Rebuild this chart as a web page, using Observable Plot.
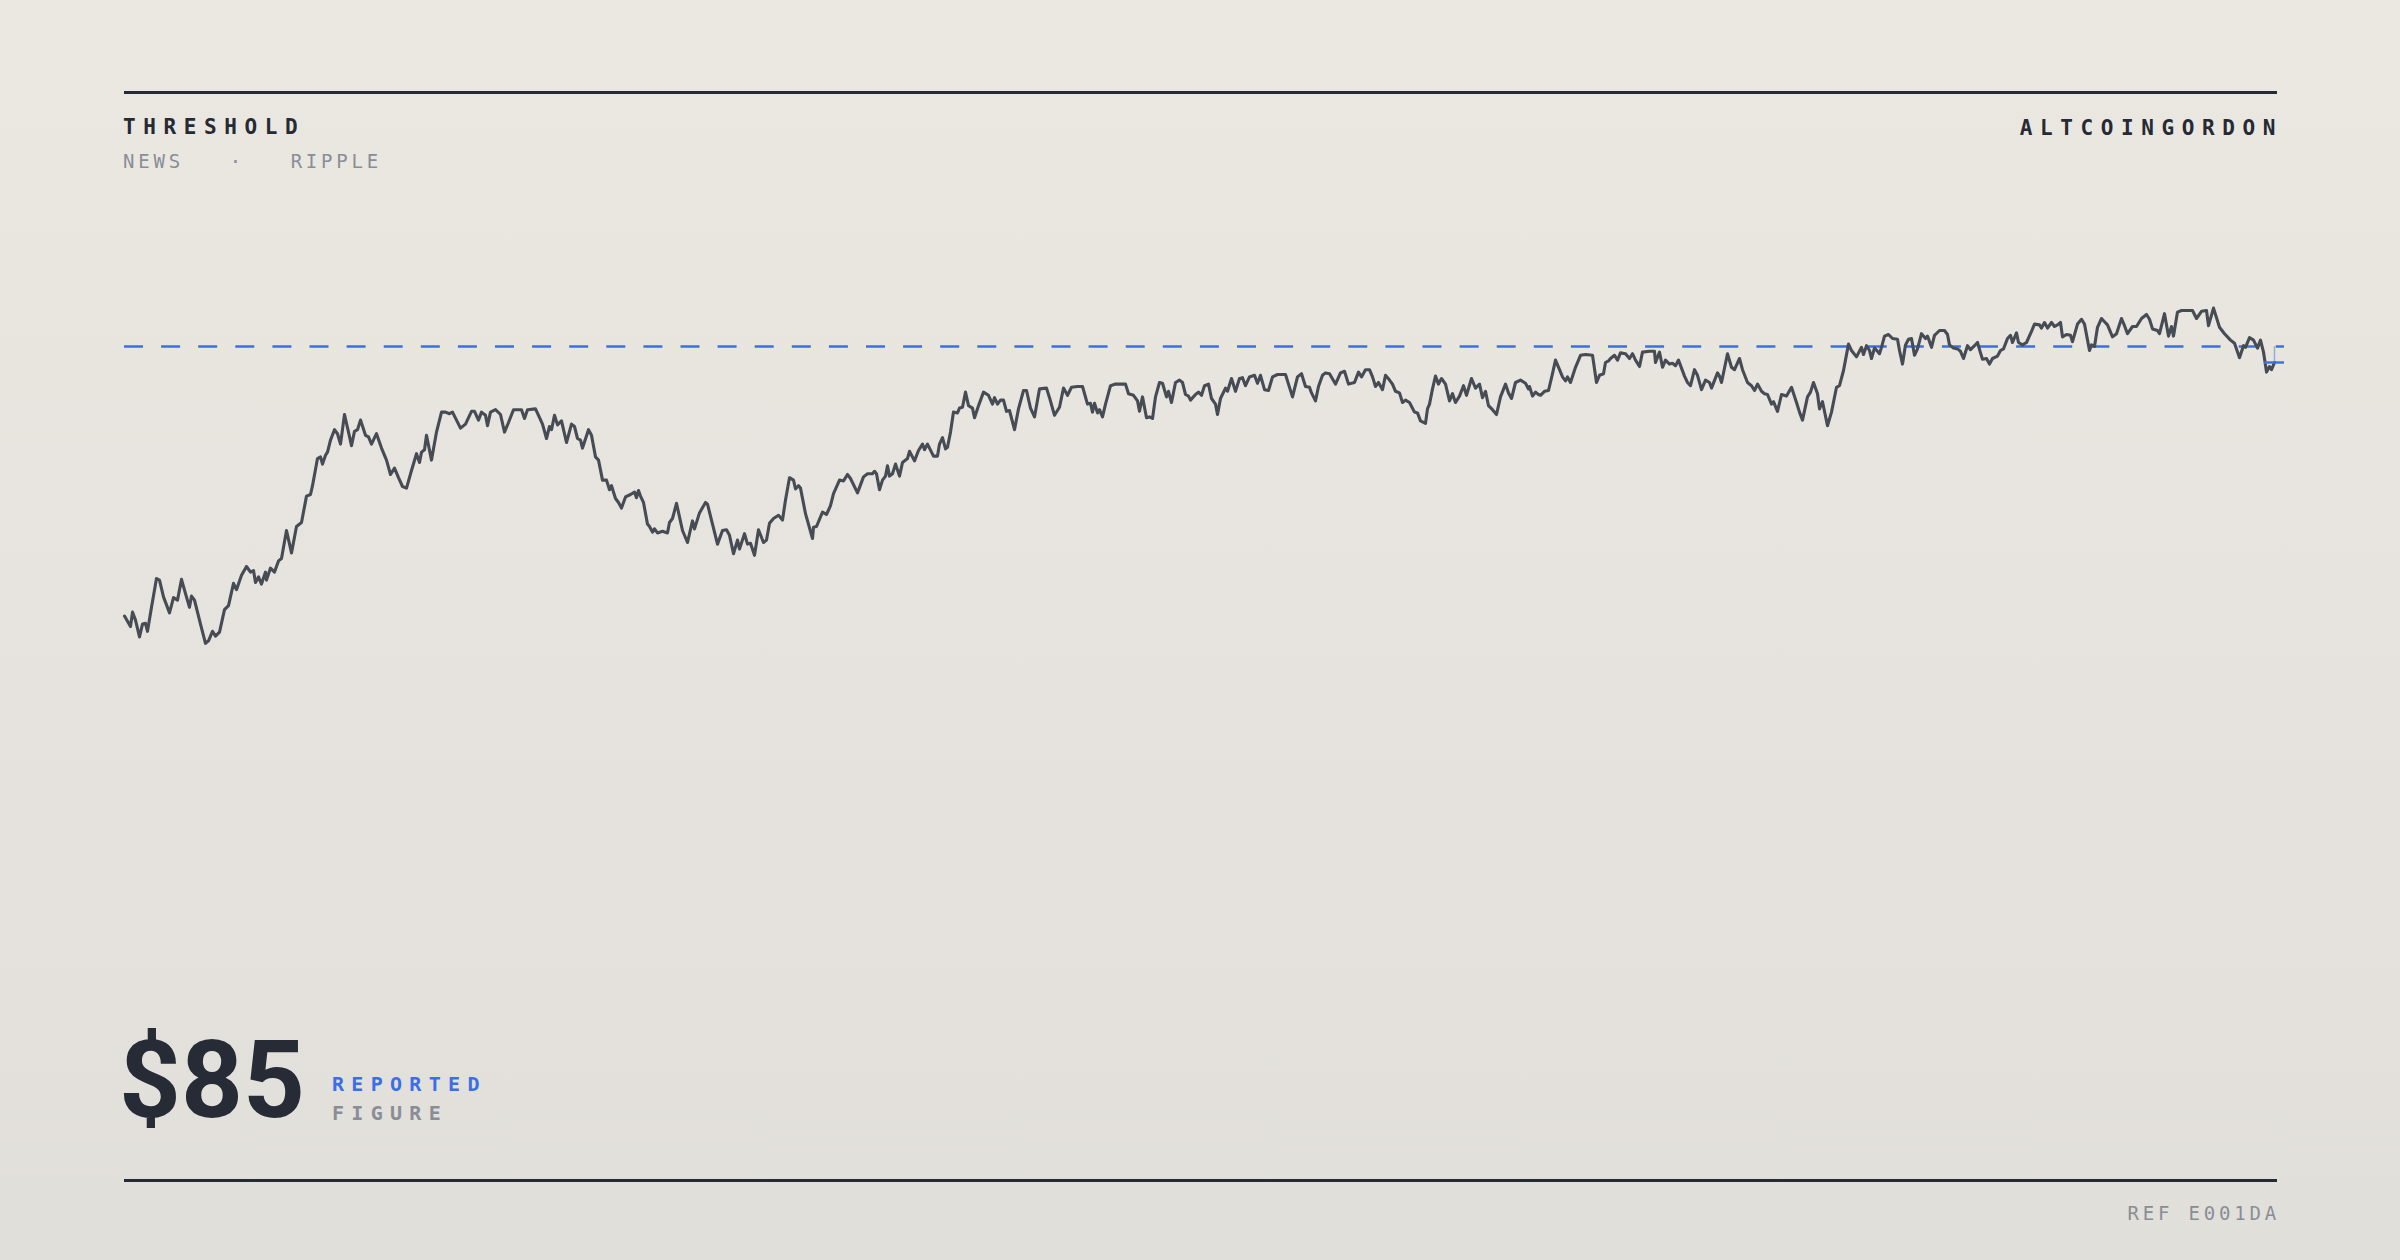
<!DOCTYPE html>
<html><head><meta charset="utf-8">
<script src="https://cdn.jsdelivr.net/npm/d3@7"></script>
<script src="https://cdn.jsdelivr.net/npm/@observablehq/plot@0.6"></script>
<style>
html,body{margin:0;padding:0;}
body{width:2400px;height:1260px;overflow:hidden;background:linear-gradient(180deg,#ebe8e2 0%,#e1dfda 100%);}
#page{position:relative;width:2400px;height:1260px;}
.rule{position:absolute;left:124px;width:2153px;height:3px;background:#262a33;}
.mono{position:absolute;font-family:"DejaVu Sans Mono",monospace;white-space:pre;line-height:1;margin:0;}
.kicker{font-size:21px;font-weight:700;letter-spacing:7.6px;color:#262a33;}
.meta{font-size:19px;font-weight:400;letter-spacing:3.8px;color:#8a8d96;}
.tag{font-size:20px;font-weight:700;letter-spacing:7.3px;}
#big{position:absolute;left:119px;top:1026px;font-family:Roboto,Inter,sans-serif;font-weight:700;font-size:108px;line-height:1;letter-spacing:0px;color:#272b35;white-space:pre;}
#chart{position:absolute;left:0;top:200px;}
</style></head>
<body><div id="page">
<div class="rule" style="top:91px"></div>
<div class="rule" style="top:1179px"></div>
<div id="title" class="mono kicker" style="left:123px;top:117px"></div>
<div id="brand" class="mono kicker" style="right:117px;top:118px"></div>
<div id="sub" class="mono meta" style="left:123px;top:152px"></div>
<div id="big"></div>
<div id="tag1" class="mono tag" style="left:332px;top:1074px;color:#3b6fe6"></div>
<div id="tag2" class="mono tag" style="left:332px;top:1103px;color:#8a8d96"></div>
<div id="ref" class="mono meta" style="right:120px;top:1204px"></div>
<div id="chart"></div>
</div>
<script>
const titleText = "THRESHOLD";
const brandText = "ALTCOINGORDON";
const subtitleParts = ["NEWS", "RIPPLE"];
const reportedLabel = ["REPORTED", "FIGURE"];
const refText = "REF E001DA";
const reportedFigure = 85;

const days = [0,6,8,11,15,18,21,23,27,32,35,39,45,49,53,57,61,65,67,70,76,81,84,88,91,95,100,104,109,112,117,122,126,129,131,134,137,141,142,146,150,154,157,162,167,172,177,182,186,188,193,196,198,201,203,206,210,213,216,220,224,227,230,233,236,241,244,247,252,257,262,266,270,274,278,282,287,292,295,297,300,302,307,312,317,321,325,328,332,336,341,347,350,354,357,361,363,366,371,376,380,384,389,397,400,403,411,414,418,422,425,427,430,433,437,442,447,450,453,456,458,464,467,471,474,478,482,485,487,491,494,497,501,506,510,512,514,516,519,523,525,528,530,533,538,543,545,548,552,558,563,568,570,575,581,583,588,593,598,602,605,609,613,615,620,623,626,630,634,639,642,645,649,654,658,661,665,669,671,674,676,681,688,689,692,698,702,706,709,715,719,723,726,733,739,743,748,750,752,755,758,761,763,765,768,771,775,778,783,785,790,794,798,800,803,805,809,813,815,818,821,823,826,829,833,835,838,841,844,848,850,854,859,864,868,870,873,876,879,882,885,890,894,899,902,906,910,915,922,925,930,935,939,943,947,953,958,963,966,968,970,973,975,978,981,986,991,1001,1004,1009,1013,1015,1018,1022,1025,1028,1031,1035,1038,1042,1044,1047,1051,1055,1058,1061,1064,1066,1071,1074,1077,1080,1084,1087,1091,1093,1096,1101,1103,1107,1111,1115,1118,1121,1125,1130,1133,1136,1140,1144,1148,1153,1161,1164,1168,1173,1177,1181,1185,1187,1191,1194,1198,1201,1205,1211,1216,1220,1224,1230,1234,1237,1241,1245,1248,1251,1254,1258,1261,1265,1268,1271,1275,1278,1281,1285,1290,1293,1296,1301,1303,1305,1308,1311,1314,1317,1321,1325,1328,1331,1335,1339,1342,1347,1351,1355,1358,1361,1364,1368,1372,1376,1381,1384,1387,1391,1396,1401,1404,1405,1408,1411,1414,1416,1420,1424,1428,1431,1435,1438,1441,1443,1446,1451,1456,1461,1468,1472,1475,1479,1481,1484,1486,1490,1493,1496,1501,1505,1508,1511,1515,1518,1525,1530,1531,1535,1538,1541,1545,1548,1551,1554,1560,1563,1566,1570,1573,1577,1581,1585,1587,1593,1595,1597,1603,1607,1610,1615,1618,1623,1627,1630,1633,1637,1640,1643,1647,1649,1653,1657,1662,1667,1672,1675,1678,1683,1686,1689,1693,1695,1698,1703,1707,1712,1715,1719,1724,1727,1732,1737,1739,1742,1745,1747,1750,1753,1755,1757,1760,1764,1768,1773,1775,1778,1781,1784,1787,1790,1793,1797,1801,1803,1807,1810,1815,1820,1823,1825,1829,1833,1836,1839,1843,1846,1850,1853,1856,1858,1862,1865,1868,1873,1876,1879,1883,1886,1888,1892,1894,1898,1902,1907,1910,1915,1917,1920,1923,1927,1930,1933,1936,1938,1942,1946,1948,1953,1957,1960,1965,1967,1970,1973,1977,1980,1983,1988,1992,1997,2000,2003,2008,2012,2017,2022,2025,2028,2033,2035,2040,2044,2047,2049,2053,2057,2068,2072,2077,2082,2084,2089,2095,2100,2106,2110,2115,2119,2121,2125,2129,2133,2136,2139,2142,2145,2147,2150];

const prices = [51.3,50.0,51.8,50.8,48.7,50.3,50.4,49.4,52.4,56.0,55.8,53.7,51.7,53.6,53.3,55.9,54.1,52.4,53.8,53.3,50.3,47.9,48.2,49.4,48.8,49.3,52.1,52.6,55.4,54.6,56.4,57.5,56.8,57.0,55.5,56.2,55.3,56.8,55.8,57.3,56.8,58.2,58.5,62.0,59.2,62.5,63.0,66.3,66.5,67.6,71.0,71.2,70.3,71.4,71.8,73.3,74.6,74.1,72.8,76.5,74.3,72.6,74.4,74.6,75.8,73.9,73.7,72.8,74.1,72.3,70.8,69.0,69.8,68.6,67.5,67.3,69.5,71.6,70.5,71.8,72.1,73.9,70.8,74.3,76.8,76.8,76.6,76.8,75.8,74.8,75.3,76.9,76.9,75.8,76.8,76.4,75.1,76.8,77.1,76.5,74.3,75.5,77.1,77.1,76.0,77.1,77.2,76.4,75.3,73.5,75.0,74.6,76.4,75.2,75.7,73.0,75.3,75.0,73.5,73.3,72.3,74.6,73.9,71.2,70.8,68.3,68.3,67.1,67.6,66.0,65.5,64.8,66.2,66.5,66.8,66.1,67.0,66.3,65.5,62.8,62.5,61.8,62.2,61.7,61.9,61.7,63.0,63.5,65.4,62.0,60.5,63.2,62.2,64.2,65.5,65.3,62.8,60.3,62.0,62.1,61.4,59.1,60.8,59.7,61.6,60.3,60.4,58.9,62.1,60.5,60.8,62.9,63.5,63.9,63.3,65.8,68.6,68.3,67.2,67.6,67.3,64.1,61.0,62.4,62.5,64.3,64.0,65.1,66.6,68.3,68.2,69.0,68.5,66.7,68.7,69.1,69.1,69.4,69.1,67.1,68.3,68.8,70.1,68.8,69.1,70.3,68.8,70.5,71.0,71.9,70.7,72.0,72.8,72.1,72.8,72.3,71.3,71.3,72.8,73.6,72.2,72.4,74.3,76.8,76.7,77.3,77.4,79.3,77.6,77.3,76.1,77.6,79.3,78.9,77.8,78.6,77.8,78.3,78.3,76.9,77.0,74.6,77.2,79.5,79.5,77.3,76.2,79.7,79.8,78.6,76.4,77.4,79.8,78.9,79.9,80.0,80.0,77.8,77.9,76.8,77.9,76.7,77.1,76.2,77.8,80.1,80.3,80.3,79.1,78.9,78.2,76.9,78.7,76.1,76.2,76.0,78.7,80.5,80.4,78.7,79.4,78.0,80.5,80.8,80.5,79.0,78.8,78.3,79.0,79.3,78.9,80.1,80.3,78.5,77.8,76.5,78.5,79.8,79.4,81.0,79.4,81.0,81.1,80.1,81.2,81.4,80.4,81.4,79.6,79.5,81.2,81.5,81.5,80.3,78.7,81.2,81.6,80.0,79.9,79.2,78.2,80.0,81.4,81.7,81.6,80.3,81.7,81.9,80.3,80.5,81.8,81.2,82.1,82.1,81.2,80.0,80.5,79.6,81.4,80.8,80.3,79.4,79.2,78.0,78.3,78.0,76.8,76.7,75.7,75.4,77.2,77.8,79.7,81.3,80.3,81.0,80.3,78.2,79.1,78.0,78.8,80.1,78.9,81.0,79.8,80.3,78.6,79.4,77.6,77.1,76.5,78.7,80.3,79.2,78.5,80.5,80.8,80.4,79.7,80.0,78.8,79.3,79.0,78.9,79.4,79.5,81.6,83.3,82.1,81.2,80.7,81.2,80.5,82.4,83.9,84.0,83.9,80.5,81.4,81.6,83.0,83.2,83.5,83.9,83.3,84.2,84.1,83.5,84.1,83.3,82.5,84.3,84.4,84.4,83.0,84.3,82.4,83.3,82.8,82.9,82.6,83.3,81.3,80.5,80.1,82.1,81.4,79.6,80.8,80.5,79.8,81.7,81.3,80.5,84.1,82.4,82.1,83.5,82.1,80.5,80.1,79.5,80.3,79.4,79.1,79.0,77.8,78.1,76.9,79.0,78.8,79.9,78.0,76.8,75.8,78.7,79.3,80.5,79.1,77.2,78.1,75.1,76.8,79.9,80.1,82.0,85.3,84.5,83.7,84.9,84.0,85.1,84.5,83.5,84.8,84.4,84.1,84.9,86.3,86.5,86.0,85.9,84.5,82.8,85.2,85.9,86.0,83.9,84.7,86.6,86.0,86.3,84.9,86.4,87.0,87.0,86.5,85.2,84.8,84.7,84.4,83.5,85.1,84.6,85.1,85.5,84.2,83.4,83.5,82.8,83.5,83.8,84.5,84.7,86.0,86.4,85.5,86.7,85.5,85.2,85.5,86.9,87.8,87.7,87.3,88.0,87.3,88.0,87.5,87.7,88.0,86.2,86.5,86.4,85.6,87.8,88.4,87.8,84.5,85.2,85.0,87.4,88.5,88.1,87.7,86.2,86.6,88.5,87.6,86.6,87.5,87.5,88.5,89.0,88.4,87.2,87.0,86.6,89.1,86.3,87.5,86.3,89.3,89.5,89.5,88.5,89.4,89.5,87.6,89.8,87.4,86.6,85.8,85.4,83.6,85.1,84.9,86.1,85.8,84.8,85.8,84.3,81.8,82.5,82.1,83.0];

document.getElementById("title").textContent = titleText;
document.getElementById("brand").textContent = brandText;
document.getElementById("sub").textContent = subtitleParts.join("   ·   ");
document.getElementById("big").textContent = "$" + reportedFigure;
document.getElementById("tag1").textContent = reportedLabel[0];
document.getElementById("tag2").textContent = reportedLabel[1];
document.getElementById("ref").textContent = refText;

const data = days.map((t, i) => ({t, v: prices[i]}));
const last = data[data.length - 1];
const blue = "#3b6fe6";

const chart = Plot.plot({
  width: 2400,
  height: 600,
  marginLeft: 124,
  marginRight: 116,
  marginTop: 66,
  marginBottom: 134,
  x: {domain: [0, 2152], range: [124, 2276], axis: null},
  y: {domain: [45, 95], axis: null},
  style: {background: "transparent", overflow: "visible"},
  marks: [
    Plot.ruleY([reportedFigure], {stroke: blue, strokeWidth: 2.4, strokeDasharray: "19,18.1"}),
    Plot.line(data, {x: "t", y: "v", stroke: "#464b54", strokeWidth: 3.1, strokeLinejoin: "round", strokeLinecap: "round"}),
    Plot.ruleX([last], {x: "t", y1: () => reportedFigure, y2: "v", stroke: blue, strokeOpacity: 0.5, strokeWidth: 1.5}),
    Plot.ruleY([last], {y: "v", x1: d => d.t - 10, x2: d => d.t + 10, stroke: blue, strokeWidth: 2.4})
  ]
});
document.getElementById("chart").appendChild(chart);
</script>
</body></html>
